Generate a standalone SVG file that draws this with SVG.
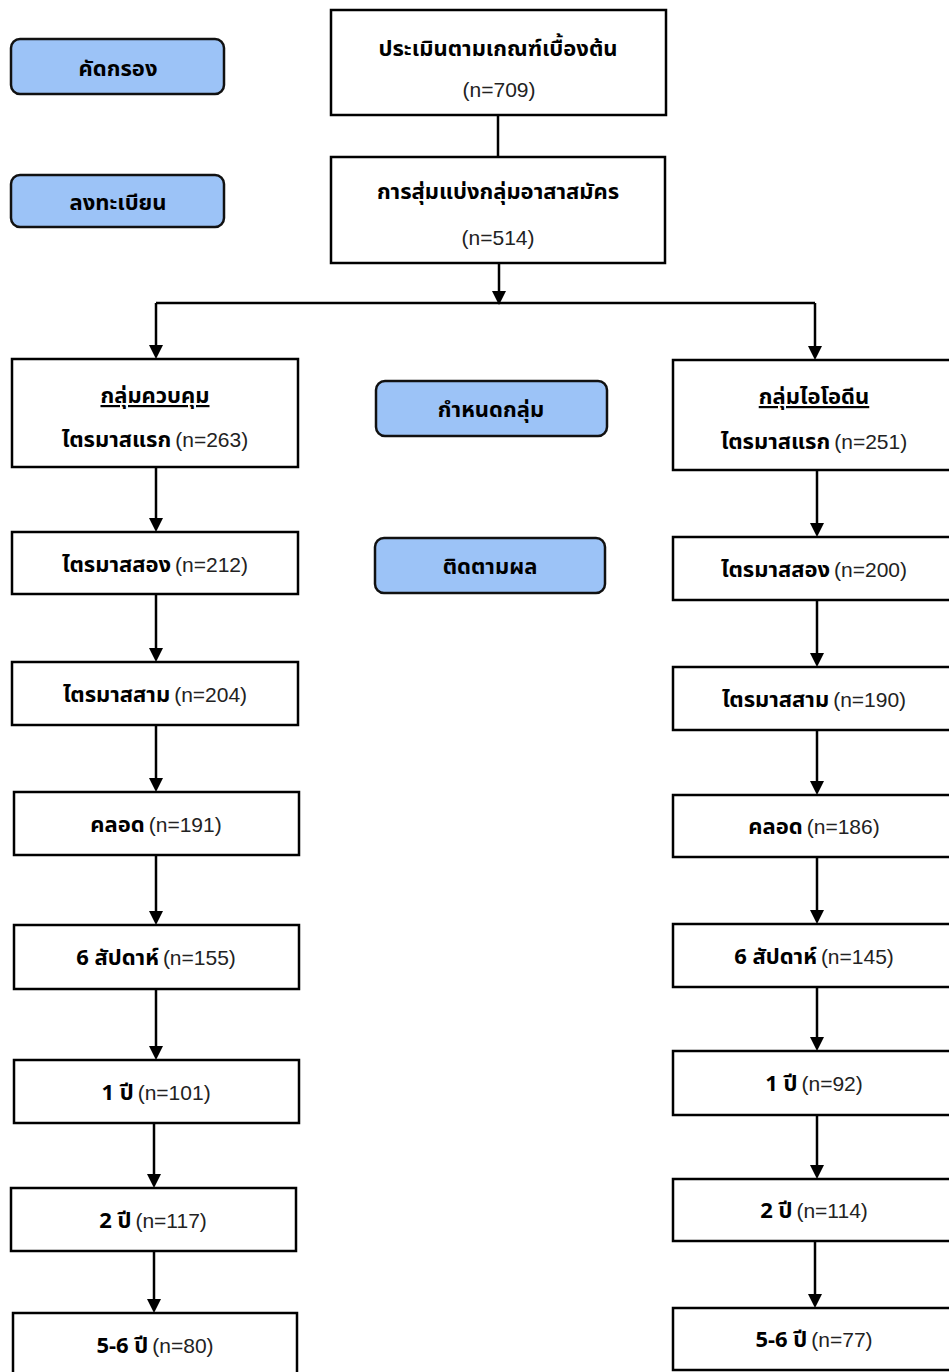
<svg xmlns="http://www.w3.org/2000/svg" width="949" height="1372" viewBox="0 0 949 1372">
<style>
.box{fill:#fff;stroke:#000;stroke-width:2.5}
.tag{fill:#9cc3f7;stroke:#111;stroke-width:2.5}
.th{font-family:"Noto Sans Thai","Noto Sans Thai UI","Loma","Garuda","Tlwg Typo","Noto Sans","DejaVu Sans",sans-serif;font-weight:bold;font-size:22px;fill:#000}
.n{font-family:"Liberation Sans","Noto Sans Thai",Arial,sans-serif;font-weight:normal;font-size:21px;fill:#222}
.c{text-anchor:middle}
.ln{fill:none;stroke:#000;stroke-width:2.5}
.ah{fill:#000}
</style>
<rect width="949" height="1372" fill="#fff"/>

<g id="connectors">
<path class="ln" d="M498,115 V157"/>
<path class="ln" d="M499,263 V291"/>
<path class="ah" d="M492,291 L506,291 L499,305 Z"/>
<path class="ln" d="M156,303 H815"/>
<path class="ln" d="M156,303 V345"/>
<path class="ah" d="M149,345 L163,345 L156,359 Z"/>
<path class="ln" d="M815,303 V346"/>
<path class="ah" d="M808,346 L822,346 L815,360 Z"/>
<path class="ln" d="M156,467 V518"/><path class="ah" d="M149,518 L163,518 L156,532 Z"/>
<path class="ln" d="M156,594 V648"/><path class="ah" d="M149,648 L163,648 L156,662 Z"/>
<path class="ln" d="M156,725 V778"/><path class="ah" d="M149,778 L163,778 L156,792 Z"/>
<path class="ln" d="M156,855 V911"/><path class="ah" d="M149,911 L163,911 L156,925 Z"/>
<path class="ln" d="M156,989 V1046"/><path class="ah" d="M149,1046 L163,1046 L156,1060 Z"/>
<path class="ln" d="M154,1123 V1174"/><path class="ah" d="M147,1174 L161,1174 L154,1188 Z"/>
<path class="ln" d="M154,1251 V1299"/><path class="ah" d="M147,1299 L161,1299 L154,1313 Z"/>
<path class="ln" d="M817,470 V523"/><path class="ah" d="M810,523 L824,523 L817,537 Z"/>
<path class="ln" d="M817,600 V653"/><path class="ah" d="M810,653 L824,653 L817,667 Z"/>
<path class="ln" d="M817,730 V781"/><path class="ah" d="M810,781 L824,781 L817,795 Z"/>
<path class="ln" d="M817,857 V910"/><path class="ah" d="M810,910 L824,910 L817,924 Z"/>
<path class="ln" d="M817,987 V1037"/><path class="ah" d="M810,1037 L824,1037 L817,1051 Z"/>
<path class="ln" d="M817,1115 V1165"/><path class="ah" d="M810,1165 L824,1165 L817,1179 Z"/>
<path class="ln" d="M815,1241 V1294"/><path class="ah" d="M808,1294 L822,1294 L815,1308 Z"/>
</g>

<g id="screening-label"><rect class="tag" x="11" y="39" width="213" height="55" rx="9"/><text class="th c" x="118" y="76">คัดกรอง</text></g>
<g id="enrolment-label"><rect class="tag" x="11" y="175" width="213" height="52" rx="9"/><text class="th c" x="118" y="210">ลงทะเบียน</text></g>
<g id="allocation-label"><rect class="tag" x="376" y="381" width="231" height="55" rx="9"/><text class="th c" x="491" y="417">กำหนดกลุ่ม</text></g>
<g id="followup-label"><rect class="tag" x="375" y="538" width="230" height="55" rx="9"/><text class="th c" x="490" y="574">ติดตามผล</text></g>

<g id="assessed"><rect class="box" x="331" y="10" width="335" height="105"/>
<text class="th c" x="498" y="56">ประเมินตามเกณฑ์เบื้องต้น</text>
<text class="n c" x="499" y="97">(n=709)</text></g>
<g id="randomized"><rect class="box" x="331" y="157" width="334" height="106"/>
<text class="th c" x="498" y="199">การสุ่มแบ่งกลุ่มอาสาสมัคร</text>
<text class="n c" x="498" y="245">(n=514)</text></g>

<g id="control-1"><rect class="box" x="12" y="359" width="286" height="108"/>
<text class="th c" x="155" y="403" text-decoration="underline">กลุ่มควบคุม</text>
<text class="c" x="155" y="447"><tspan class="th">ไตรมาสแรก</tspan> <tspan class="n">(n=263)</tspan></text></g>
<g id="control-2"><rect class="box" x="12" y="532" width="286" height="62"/>
<text class="c" x="155" y="572"><tspan class="th">ไตรมาสสอง</tspan> <tspan class="n">(n=212)</tspan></text></g>
<g id="control-3"><rect class="box" x="12" y="662" width="286" height="63"/>
<text class="c" x="155" y="702"><tspan class="th">ไตรมาสสาม</tspan> <tspan class="n">(n=204)</tspan></text></g>
<g id="control-4"><rect class="box" x="14" y="792" width="285" height="63"/>
<text class="c" x="156" y="832"><tspan class="th">คลอด</tspan> <tspan class="n">(n=191)</tspan></text></g>
<g id="control-5"><rect class="box" x="14" y="925" width="285" height="64"/>
<text class="c" x="156" y="965"><tspan class="th">6 สัปดาห์</tspan> <tspan class="n">(n=155)</tspan></text></g>
<g id="control-6"><rect class="box" x="14" y="1060" width="285" height="63"/>
<text class="c" x="156" y="1100"><tspan class="th">1 ปี</tspan> <tspan class="n">(n=101)</tspan></text></g>
<g id="control-7"><rect class="box" x="11" y="1188" width="285" height="63"/>
<text class="c" x="153" y="1228"><tspan class="th">2 ปี</tspan> <tspan class="n">(n=117)</tspan></text></g>
<g id="control-8"><rect class="box" x="13" y="1313" width="284" height="63"/>
<text class="c" x="155" y="1353"><tspan class="th">5-6 ปี</tspan> <tspan class="n">(n=80)</tspan></text></g>

<g id="iodine-1"><rect class="box" x="673" y="360" width="290" height="110"/>
<text class="th c" x="814" y="404" text-decoration="underline">กลุ่มไอโอดีน</text>
<text class="c" x="814" y="449"><tspan class="th">ไตรมาสแรก</tspan> <tspan class="n">(n=251)</tspan></text></g>
<g id="iodine-2"><rect class="box" x="673" y="537" width="290" height="63"/>
<text class="c" x="814" y="577"><tspan class="th">ไตรมาสสอง</tspan> <tspan class="n">(n=200)</tspan></text></g>
<g id="iodine-3"><rect class="box" x="673" y="667" width="290" height="63"/>
<text class="c" x="814" y="707"><tspan class="th">ไตรมาสสาม</tspan> <tspan class="n">(n=190)</tspan></text></g>
<g id="iodine-4"><rect class="box" x="673" y="795" width="290" height="62"/>
<text class="c" x="814" y="834"><tspan class="th">คลอด</tspan> <tspan class="n">(n=186)</tspan></text></g>
<g id="iodine-5"><rect class="box" x="673" y="924" width="290" height="63"/>
<text class="c" x="814" y="964"><tspan class="th">6 สัปดาห์</tspan> <tspan class="n">(n=145)</tspan></text></g>
<g id="iodine-6"><rect class="box" x="673" y="1051" width="290" height="64"/>
<text class="c" x="814" y="1091"><tspan class="th">1 ปี</tspan> <tspan class="n">(n=92)</tspan></text></g>
<g id="iodine-7"><rect class="box" x="673" y="1179" width="290" height="62"/>
<text class="c" x="814" y="1218"><tspan class="th">2 ปี</tspan> <tspan class="n">(n=114)</tspan></text></g>
<g id="iodine-8"><rect class="box" x="673" y="1308" width="290" height="62"/>
<text class="c" x="814" y="1347"><tspan class="th">5-6 ปี</tspan> <tspan class="n">(n=77)</tspan></text></g>
</svg>
